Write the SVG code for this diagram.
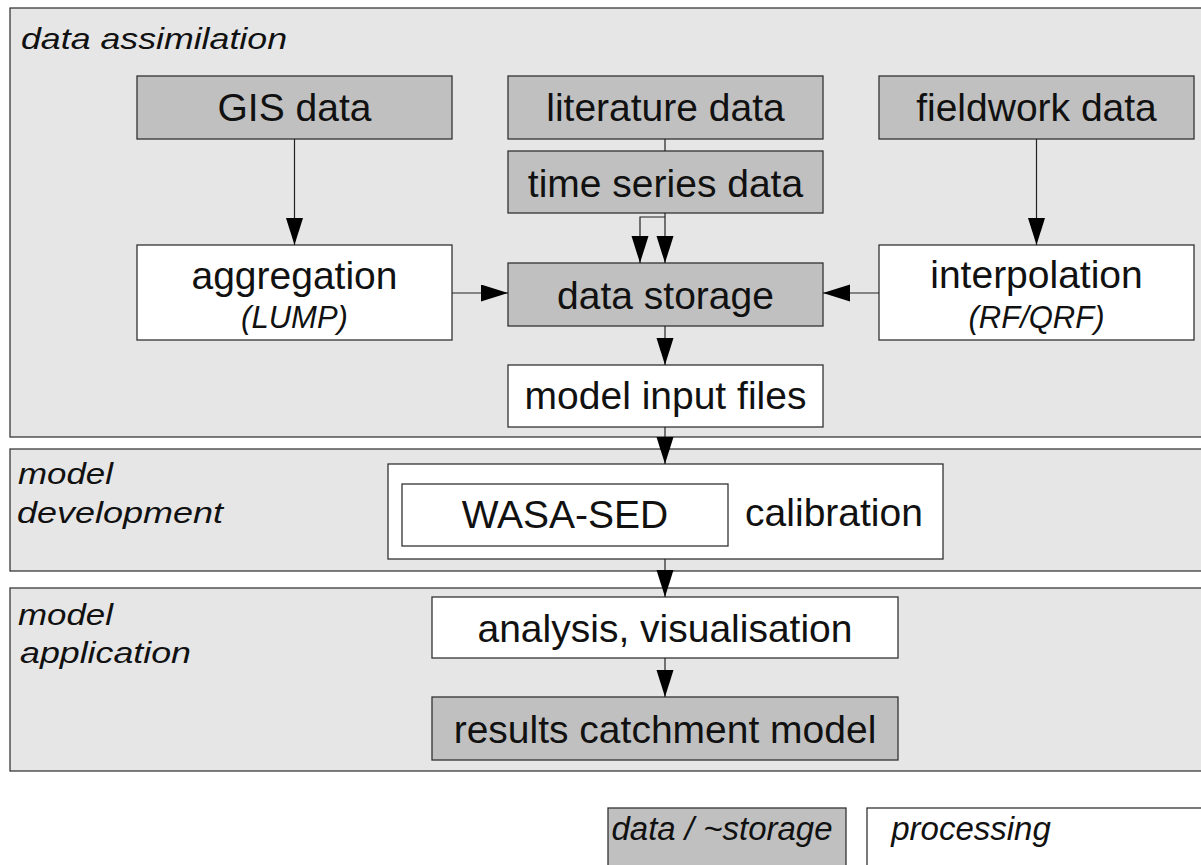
<svg xmlns="http://www.w3.org/2000/svg" width="1201" height="865" viewBox="0 0 1201 865">
<style>
.panel{fill:#e6e6e6;stroke:#3a3a3a;stroke-width:1.3}
.data{fill:#c0c0c0;stroke:#333;stroke-width:1.3}
.proc{fill:#ffffff;stroke:#333;stroke-width:1.3}
.t{font-family:"Liberation Sans",Arial,sans-serif;font-size:39px;fill:#111;text-anchor:middle}
.s{font-family:"Liberation Sans",Arial,sans-serif;font-size:31px;font-style:italic;fill:#111;text-anchor:middle}
.lbl{font-family:"Liberation Sans",Arial,sans-serif;font-size:30px;font-style:italic;fill:#111}
.lg{font-family:"Liberation Sans",Arial,sans-serif;font-size:33px;font-style:italic;fill:#111;text-anchor:middle}
.c{fill:none;stroke:#222;stroke-width:1.2}
</style>
<defs>
<marker id="ah" markerUnits="userSpaceOnUse" markerWidth="28" markerHeight="18" refX="27" refY="8.5" orient="auto">
<path d="M0,0 L27,8.5 L0,17 z" fill="#000"/>
</marker>
</defs>
<rect width="1201" height="865" fill="#ffffff"/>
<g id="panel-assimilation">
<rect class="panel" x="10" y="8" width="1200" height="429"/>
<text class="lbl" x="21" y="49" textLength="266" lengthAdjust="spacingAndGlyphs">data assimilation</text>
</g>
<g id="panel-development">
<rect class="panel" x="10" y="449" width="1200" height="122"/>
<text class="lbl" x="18" y="484" textLength="95" lengthAdjust="spacingAndGlyphs">model</text>
<text class="lbl" x="17" y="523" textLength="206" lengthAdjust="spacingAndGlyphs">development</text>
</g>
<g id="panel-application">
<rect class="panel" x="10" y="588" width="1200" height="183"/>
<text class="lbl" x="18" y="625" textLength="95" lengthAdjust="spacingAndGlyphs">model</text>
<text class="lbl" x="20" y="663" textLength="171" lengthAdjust="spacingAndGlyphs">application</text>
</g>
<g id="gis-data">
<rect class="data" x="137" y="76" width="315" height="63"/>
<text class="t" x="294.5" y="121">GIS data</text>
</g>
<g id="literature-data">
<rect class="data" x="508" y="76" width="315" height="63"/>
<text class="t" x="665.5" y="121">literature data</text>
</g>
<g id="fieldwork-data">
<rect class="data" x="879" y="76" width="315" height="63"/>
<text class="t" x="1036.5" y="121">fieldwork data</text>
</g>
<g id="time-series-data">
<rect class="data" x="508" y="151" width="315" height="62"/>
<text class="t" x="665.5" y="197">time series data</text>
</g>
<g id="aggregation">
<rect class="proc" x="137" y="245" width="315" height="95"/>
<text class="t" x="294.5" y="289">aggregation</text>
<text class="s" x="294.5" y="328">(LUMP)</text>
</g>
<g id="data-storage">
<rect class="data" x="508" y="263" width="315" height="63"/>
<text class="t" x="665.5" y="309">data storage</text>
</g>
<g id="interpolation">
<rect class="proc" x="879" y="245" width="315" height="95"/>
<text class="t" x="1036.5" y="288">interpolation</text>
<text class="s" x="1036.5" y="328">(RF/QRF)</text>
</g>
<g id="model-input-files">
<rect class="proc" x="508" y="365" width="315" height="62"/>
<text class="t" x="665.5" y="409">model input files</text>
</g>
<g id="calibration">
<rect class="proc" x="388" y="464" width="555" height="95"/>
<text class="t" x="834" y="526">calibration</text>
</g>
<g id="wasa-sed">
<rect class="proc" x="402" y="484" width="326" height="62"/>
<text class="t" x="565" y="528">WASA-SED</text>
</g>
<g id="analysis">
<rect class="proc" x="432" y="597" width="466" height="61"/>
<text class="t" x="665" y="642">analysis, visualisation</text>
</g>
<g id="results">
<rect class="data" x="432" y="697" width="466" height="63"/>
<text class="t" x="665" y="743">results catchment model</text>
</g>
<g id="legend-data">
<rect class="data" x="608" y="808" width="238" height="70"/>
<text class="lg" x="722" y="840">data / ~storage</text>
</g>
<g id="legend-processing">
<rect class="proc" x="867" y="808" width="360" height="70"/>
<text class="lg" x="971" y="840">processing</text>
</g>
<g id="connectors">
<path class="c" d="M294.5,139 V245" marker-end="url(#ah)"/>
<path class="c" d="M1036.5,139 V245" marker-end="url(#ah)"/>
<path class="c" d="M665,139 V151"/>
<path class="c" d="M665,213 V263" marker-end="url(#ah)"/>
<path class="c" d="M665,217 H640 V263" marker-end="url(#ah)"/>
<path class="c" d="M452,293 H508" marker-end="url(#ah)"/>
<path class="c" d="M879,293 H823" marker-end="url(#ah)"/>
<path class="c" d="M665,326 V365" marker-end="url(#ah)"/>
<path class="c" d="M665,427 V464" marker-end="url(#ah)"/>
<path class="c" d="M665,559 V597" marker-end="url(#ah)"/>
<path class="c" d="M665,658 V697" marker-end="url(#ah)"/>
</g>
</svg>
